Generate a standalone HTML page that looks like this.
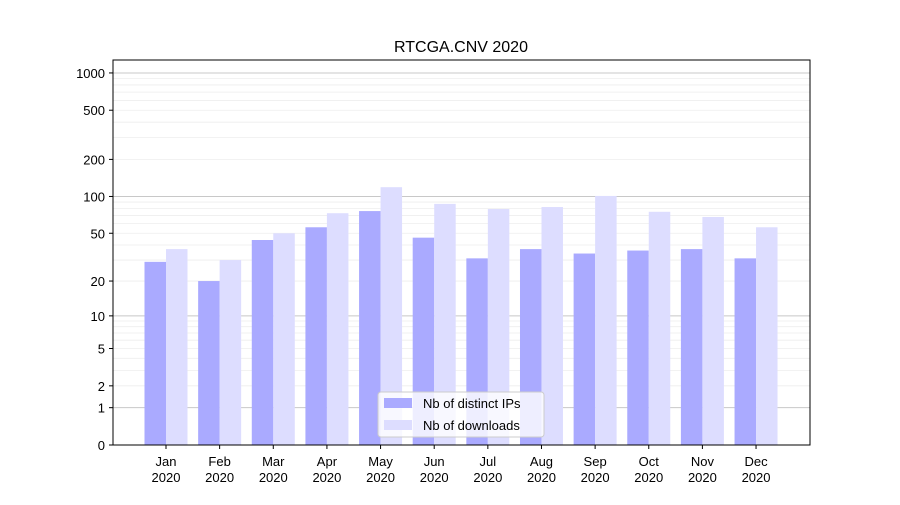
<!DOCTYPE html>
<html><head><meta charset="utf-8"><style>
body{margin:0;background:#fff;}
svg{font-family:"Liberation Sans","DejaVu Sans",sans-serif;}
</style></head><body>
<svg id="chart" width="900" height="500">
<rect x="0" y="0" width="900" height="500" fill="#fff"/>
<text x="461" y="52" text-anchor="middle" font-size="16">RTCGA.CNV 2020</text>
<g id="grid"></g><g id="bars"></g><g id="axes"></g>
</svg>
<script>
const months=["Jan","Feb","Mar","Apr","May","Jun","Jul","Aug","Sep","Oct","Nov","Dec"];
const ips=[29,20,44,56,76,46,31,37,34,36,37,31];
const downloads=[37,30,50,73,119,87,79,82,101,75,68,56];
const yTicks=[0,1,2,5,10,20,50,100,200,500,1000];
const NS="http://www.w3.org/2000/svg";
const L=113,R=810,T=60,B=445,PX=124;
function y(v){return B-Math.log10(1+v)*PX;}
function x(i){return 166+53.64*i;}
function mk(tag,attrs,parent){const e=document.createElementNS(NS,tag);for(const k in attrs)e.setAttribute(k,attrs[k]);document.getElementById(parent).appendChild(e);return e;}
// minor grid
[1,10,100,1000].forEach(d=>{for(let m=1;m<=9;m++){const v=d*m;if(y(v)<T)continue;const ln=mk('line',{x1:L,x2:R,y1:y(v),y2:y(v),stroke:m===1?'#c8c8c8':'#eeeeee','stroke-width':m===1?1:0.8},'grid');

}});
const bw=21.5;
months.forEach((m,i)=>{
 const a=mk('rect',{x:x(i)-bw,y:y(ips[i]),width:bw,height:B-y(ips[i]),fill:'#aaaaff'},'bars');
 
 
 const b=mk('rect',{x:x(i),y:y(downloads[i]),width:bw,height:B-y(downloads[i]),fill:'#ddddff'},'bars');
 
 
 mk('line',{x1:x(i),x2:x(i),y1:B,y2:B+4,stroke:'#000'},'axes');
 const t=mk('text',{x:x(i),y:B+21,'text-anchor':'middle','font-size':13},'axes');
 
 
 t.textContent=m;
 const t2=mk('text',{x:x(i),y:B+37,'text-anchor':'middle','font-size':13},'axes');
 
 
 t2.textContent='2020';
});
yTicks.forEach(v=>{
 mk('line',{x1:L-4,x2:L,y1:y(v),y2:y(v),stroke:'#000'},'axes');
 const t=mk('text',{x:L-8,y:y(v)+5,'text-anchor':'end','font-size':13},'axes');
 
 
 t.textContent=v;
});
const fr=mk('rect',{x:L,y:T,width:R-L,height:B-T,fill:'none',stroke:'#000','stroke-width':1},'axes');


// legend
const lg=mk('rect',{x:378,y:392,width:166,height:45,rx:3,fill:'#fff','fill-opacity':0.8,stroke:'#ccc'},'axes');


[['#aaaaff','Nb of distinct IPs',403],['#ddddff','Nb of downloads',425]].forEach(([c,s,yy])=>{
 const r=mk('rect',{x:384,y:yy-5,width:28,height:10,fill:c},'axes');
 
 
 const t=mk('text',{x:423,y:yy+5,'font-size':13},'axes');
 
 
 t.textContent=s;
});
</script>
</body></html>
